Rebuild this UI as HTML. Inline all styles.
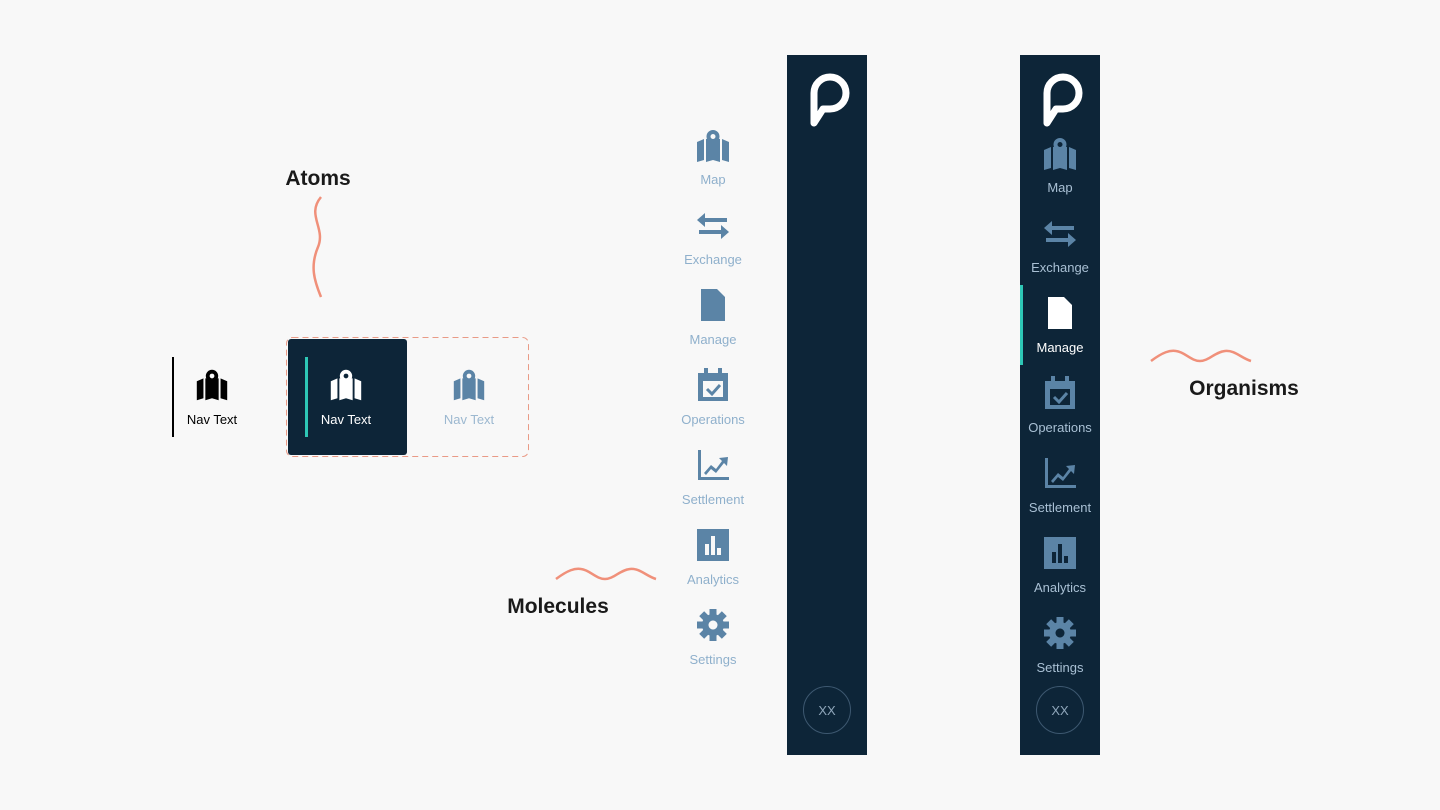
<!DOCTYPE html>
<html><head><meta charset="utf-8"><style>
body{margin:0;background:#f8f8f8;}
svg{display:block;font-family:"Liberation Sans",sans-serif;}
</style></head><body>
<svg width="1440" height="810" viewBox="0 0 1440 810" xmlns="http://www.w3.org/2000/svg">
<defs>
<g id="map">
<path d="M-16,-4 L-9,-7 L-9,14 L-16,16 Z"/>
<path d="M-7,-7 L-4,-7 L0,1 L4,-7 L7,-7 L7,16 L0,14 L-7,16 Z"/>
<path d="M9,-7 L16,-4 L16,16 L9,14 Z"/>
<path fill-rule="evenodd" d="M0,-16 A6.5,6.5 0 0 1 6.5,-9.5 C6.5,-5 2,0 0,3 C-2,0 -6.5,-5 -6.5,-9.5 A6.5,6.5 0 0 1 0,-16 Z M0,-12 A2.5,2.5 0 1 0 0.01,-12 Z"/>
</g>
<g id="exch">
<path d="M-16,-6 L-8,-13 L-8,-8 L14,-8 L14,-4 L-8,-4 L-8,1 Z"/>
<path d="M16,6 L8,13 L8,8 L-14,8 L-14,4 L8,4 L8,-1 Z"/>
</g>
<g id="doc"><path d="M-12,-16 L4,-16 L12,-8 L12,16 L-12,16 Z"/></g>
<g id="cal"><path fill-rule="evenodd" d="M-15,-12 L15,-12 L15,16 L-15,16 Z M-10,-4 L-10,12 L10,12 L10,-4 Z"/><rect x="-9" y="-17" width="4" height="7"/><rect x="5" y="-17" width="4" height="7"/><path d="M-6,4 L-1,9 L7,0" fill="none" stroke-width="3" stroke="#5b84a6"/></g>
<g id="chart"><path d="M-15,-15 L-12,-15 L-12,12 L16,12 L16,15 L-15,15 Z"/><path d="M-9,8 L-2,0 L3,4 L9,-4 L6,-7 L15,-8 L14,1 L11,-2 L3,8 L-2,4 L-7,10 Z"/></g>
<g id="bar"><path fill-rule="evenodd" d="M-16,-16 L16,-16 L16,16 L-16,16 Z M-8,-1 L-8,10 L-4,10 L-4,-1 Z M-2,-9 L-2,10 L2,10 L2,-9 Z M4,3 L4,10 L8,10 L8,3 Z"/></g>
<g id="gear"><path fill-rule="evenodd" d="M0,-11 A11,11 0 1 1 -0.01,-11 Z M0,-4.5 A4.5,4.5 0 1 0 0.01,-4.5 Z"/><g><rect x="-3.5" y="-16" width="7" height="6"/><rect x="-3.5" y="10" width="7" height="6"/><rect x="-16" y="-3.5" width="6" height="7"/><rect x="10" y="-3.5" width="6" height="7"/><g transform="rotate(45)"><rect x="-3.5" y="-16" width="7" height="6"/><rect x="-3.5" y="10" width="7" height="6"/><rect x="-16" y="-3.5" width="6" height="7"/><rect x="10" y="-3.5" width="6" height="7"/></g></g></g>
<g id="logo"><path d="M-13,27 L-13,-3 A16,16 0 1 1 3,13 L-4,13 Z" fill="none" stroke="#fff" stroke-width="7" stroke-linejoin="round" stroke-linecap="round"/></g>
</defs>

<!-- Atoms -->
<text x="318" y="185" font-size="21" font-weight="bold" text-anchor="middle" fill="#1a1a1a">Atoms</text>
<path d="M321,197 C306,215 326,228 318,247 C310,266 314,280 321,297" fill="none" stroke="#f0907a" stroke-width="2.5"/>
<rect x="172" y="357" width="2" height="80" fill="#000"/>
<use href="#map" transform="translate(212,385) scale(0.95)" fill="#000"/>
<text x="212" y="424" font-size="13" text-anchor="middle" fill="#000">Nav Text</text>
<rect x="286.5" y="337.5" width="242" height="119" rx="6" fill="none" stroke="#e99a86" stroke-dasharray="6,4"/>
<rect x="288" y="339" width="119" height="116" rx="3" fill="#0d2538"/>
<rect x="305" y="357" width="3" height="80" fill="#2ec7b6"/>
<use href="#map" transform="translate(346,385) scale(0.95)" fill="#fff"/>
<text x="346" y="424" font-size="13" text-anchor="middle" fill="#fff">Nav Text</text>
<use href="#map" transform="translate(469,385) scale(0.95)" fill="#5b84a6"/>
<text x="469" y="424" font-size="13" text-anchor="middle" fill="#9cb8d0">Nav Text</text>

<!-- Molecules -->
<g fill="#5b84a6">
<use href="#map" transform="translate(713,146)"/>
<use href="#exch" transform="translate(713,226)"/>
<use href="#doc" transform="translate(713,305)"/>
<use href="#cal" transform="translate(713,385)"/>
<use href="#chart" transform="translate(713,465)"/>
<use href="#bar" transform="translate(713,545)"/>
<use href="#gear" transform="translate(713,625)"/>
</g>
<g font-size="13" text-anchor="middle" fill="#8fb0cc">
<text x="713" y="184">Map</text><text x="713" y="264">Exchange</text><text x="713" y="344">Manage</text>
<text x="713" y="424">Operations</text><text x="713" y="504">Settlement</text><text x="713" y="584">Analytics</text><text x="713" y="664">Settings</text>
</g>
<path d="M556,579 C568,570 575,568 581,569 C590,570 596,579 605,579 C614,579 620,570 630,569 C640,568 646,576 656,579" fill="none" stroke="#f0907a" stroke-width="2.5"/>
<text x="558" y="613" font-size="21" font-weight="bold" text-anchor="middle" fill="#1a1a1a">Molecules</text>

<!-- Sidebar 1 -->
<rect x="787" y="55" width="80" height="700" fill="#0d2538"/>
<use href="#logo" transform="translate(827,96)"/>
<circle cx="827" cy="710" r="23.5" fill="none" stroke="#3d5870" stroke-width="1"/>
<text x="827" y="715" font-size="13" text-anchor="middle" fill="#8fa6ba">XX</text>

<!-- Sidebar 2 -->
<rect x="1020" y="55" width="80" height="700" fill="#0d2538"/>
<rect x="1020" y="285" width="3" height="80" fill="#2ec7b6"/>
<use href="#logo" transform="translate(1060,96)"/>
<g fill="#5b84a6">
<use href="#map" transform="translate(1060,154)"/>
<use href="#exch" transform="translate(1060,234)"/>
<use href="#doc" transform="translate(1060,313)" fill="#fff"/>
<use href="#cal" transform="translate(1060,393)"/>
<use href="#chart" transform="translate(1060,473)"/>
<use href="#bar" transform="translate(1060,553)"/>
<use href="#gear" transform="translate(1060,633)"/>
</g>
<g font-size="13" text-anchor="middle" fill="#a9c0d4">
<text x="1060" y="192">Map</text><text x="1060" y="272">Exchange</text><text x="1060" y="352" fill="#fff">Manage</text>
<text x="1060" y="432">Operations</text><text x="1060" y="512">Settlement</text><text x="1060" y="592">Analytics</text><text x="1060" y="672">Settings</text>
</g>
<circle cx="1060" cy="710" r="23.5" fill="none" stroke="#3d5870" stroke-width="1"/>
<text x="1060" y="715" font-size="13" text-anchor="middle" fill="#8fa6ba">XX</text>

<path d="M1151,361 C1163,352 1170,350 1176,351 C1185,352 1191,361 1200,361 C1209,361 1215,352 1225,351 C1235,350 1241,358 1251,361" fill="none" stroke="#f0907a" stroke-width="2.5"/>
<text x="1244" y="395" font-size="21" font-weight="bold" text-anchor="middle" fill="#1a1a1a">Organisms</text>
</svg>
</body></html>
